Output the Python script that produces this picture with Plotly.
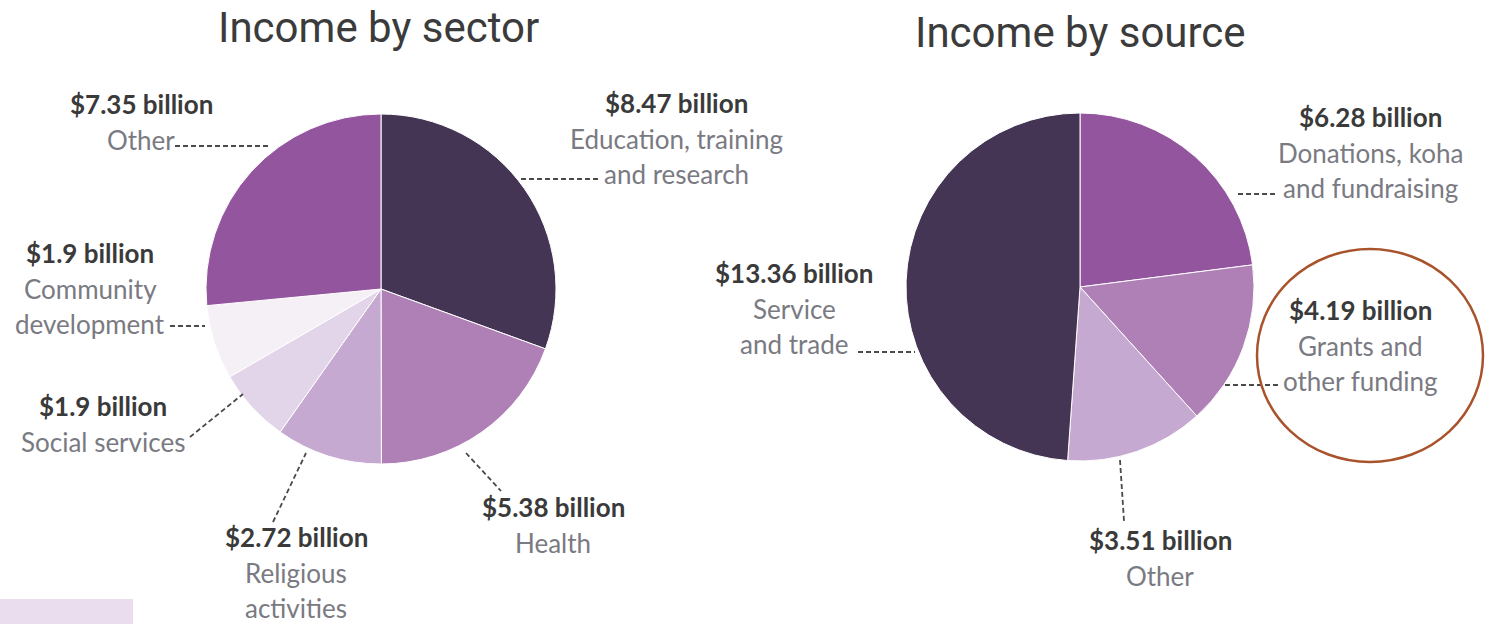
import plotly.graph_objects as go

# Income by sector (billions of dollars)
sector_labels = ["Education, training and research", "Health", "Religious activities",
                 "Social services", "Community development", "Other"]
sector_values = [8.47, 5.38, 2.72, 1.9, 1.9, 7.35]
sector_colors = ["#443554", "#ae80b6", "#c6a9d0", "#e3d5e9", "#f4f0f6", "#93569e"]

# Income by source (billions of dollars)
source_labels = ["Donations, koha and fundraising", "Grants and other funding", "Other",
                 "Service and trade"]
source_values = [6.28, 4.19, 3.51, 13.36]
source_colors = ["#93569e", "#ae80b6", "#c6a9d0", "#443554"]

W, H = 1496, 624


def fx(x):
    return x / W


def fy(y):
    return 1 - y / H


fig = go.Figure()

fig.add_trace(go.Pie(
    labels=sector_labels, values=sector_values, sort=False, direction="clockwise",
    rotation=0, textinfo="none", hoverinfo="label+value",
    marker=dict(colors=sector_colors, line=dict(color="#ffffff", width=1)),
    domain=dict(x=[fx(206), fx(556)], y=[fy(464), fy(114)]),
    showlegend=False,
))

fig.add_trace(go.Pie(
    labels=source_labels, values=source_values, sort=False, direction="clockwise",
    rotation=0, textinfo="none", hoverinfo="label+value",
    marker=dict(colors=source_colors, line=dict(color="#ffffff", width=1)),
    domain=dict(x=[fx(906), fx(1254)], y=[fy(461), fy(113)]),
    showlegend=False,
))

TITLE_FONT = dict(family="Roboto, Open Sans, sans-serif", size=42, color="#3b3b3b")
VALUE_FONT = dict(family="Lato, Open Sans, sans-serif", size=26, color="#3a3a3a")
LABEL_FONT = dict(family="Lato, Open Sans, sans-serif", size=26, color="#7a7a82")

annotations = [
    dict(text="Income by sector", x=fx(378), y=fy(28), font=TITLE_FONT),
    dict(text="Income by source", x=fx(1080), y=fy(32), font=TITLE_FONT),
]


def fmt(v):
    return f"${v:g} billion" if v == round(v, 1) else f"${v:.2f} billion"


# label blocks: (value, text lines, centre x, y of first line)
sector_text = [
    (sector_values[0], ["Education, training", "and research"], 676, 103),
    (sector_values[1], ["Health"], 553, 507),
    (sector_values[2], ["Religious", "activities"], 296, 537),
    (sector_values[3], ["Social services"], 103, 406),
    (sector_values[4], ["Community", "development"], 90, 253),
    (sector_values[5], ["Other"], 141, 104),
]
source_text = [
    (source_values[0], ["Donations, koha", "and fundraising"], 1370, 117),
    (source_values[1], ["Grants and", "other funding"], 1360, 310),
    (source_values[2], ["Other"], 1160, 540),
    (source_values[3], ["Service", "and trade"], 794, 273),
]

LINE_STEP = 35.5
for v, lines, cx, y0 in sector_text + source_text:
    annotations.append(dict(text=f"<b>{fmt(v)}</b>", x=fx(cx), y=fy(y0), font=VALUE_FONT))
    for i, ln in enumerate(lines):
        annotations.append(dict(text=ln, x=fx(cx), y=fy(y0 + LINE_STEP * (i + 1)), font=LABEL_FONT))

for a in annotations:
    a.update(xref="paper", yref="paper", showarrow=False, xanchor="center", yanchor="middle")

# dashed leader lines from each slice to its label
leaders = [
    (521, 179, 599, 179),
    (175, 146, 270, 146),
    (170, 326, 205, 326),
    (190, 437, 243, 394),
    (273, 522, 306, 453),
    (466, 453, 501, 491),
    (1238, 194, 1278, 194),
    (858, 352, 915, 352),
    (1225, 385, 1281, 385),
    (1120, 460, 1124, 521),
]
shapes = []
for x0, y0, x1, y1 in leaders:
    shapes.append(dict(type="line", xref="paper", yref="paper",
                       x0=fx(x0), y0=fy(y0), x1=fx(x1), y1=fy(y1),
                       line=dict(color="#4a4a4a", width=1.8, dash="5px,3px")))

# highlight ring round the grants label
shapes.append(dict(type="circle", xref="paper", yref="paper",
                   x0=fx(1257), y0=fy(462), x1=fx(1483), y1=fy(249),
                   line=dict(color="#a8532b", width=2.5)))

# tinted panel in the lower-left corner
shapes.append(dict(type="rect", xref="paper", yref="paper",
                   x0=fx(0), y0=fy(624), x1=fx(133), y1=fy(599),
                   line=dict(width=0), fillcolor="#e9ddee", layer="below"))

fig.update_layout(
    width=W, height=H, margin=dict(l=0, r=0, t=0, b=0),
    paper_bgcolor="#ffffff", plot_bgcolor="#ffffff",
    annotations=annotations, shapes=shapes,
)

fig.write_html("out.html")
